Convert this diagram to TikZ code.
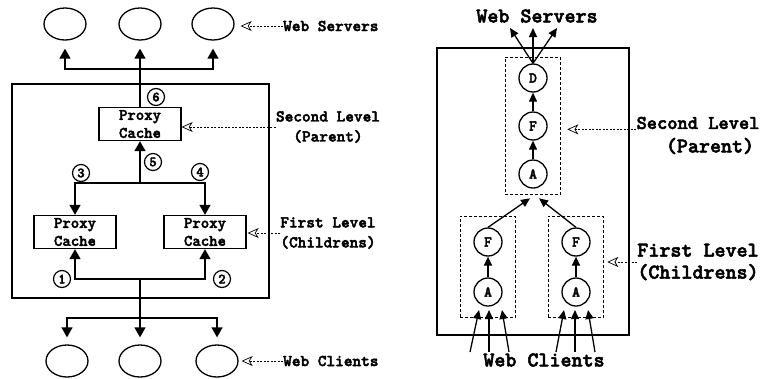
\documentclass[tikz,border=0pt]{standalone}
\usepackage{fontspec}
\newfontfamily\cour{lmmonolt10-bold.otf}[FakeBold=2.5]
\usetikzlibrary{arrows.meta,shapes.geometric,fit}
\tikzset{
  arr/.style={line width=1.4pt,-{Triangle[length=10pt,width=11pt]}},
  sarr/.style={line width=1.3pt,-{Triangle[length=9pt,width=8pt]}},
  lead/.style={line width=0.7pt,dash pattern=on 2pt off 1.5pt,-{Stealth[open,length=11pt,width=10pt,inset=3pt]}},
  host/.style={ellipse,draw,line width=1.3pt,minimum width=42pt,minimum height=32pt,inner sep=0pt},
  cache/.style={draw,line width=1.3pt,minimum width=82pt,minimum height=33pt,align=center,inner sep=0pt,
    font=\cour\bfseries\fontsize{16}{18}\selectfont},
  num/.style={circle,draw,line width=1.2pt,minimum size=17pt,inner sep=0pt,font=\cour\bfseries\fontsize{14}{14}\selectfont},
  mod/.style={circle,draw,line width=1.3pt,minimum size=28pt,inner sep=0pt,font=\cour\bfseries\fontsize{15}{15}\selectfont},
  grp/.style={draw,line width=1.3pt,dash pattern=on 3pt off 2pt,inner sep=0pt},
  lbl/.style={font=\cour\bfseries\fontsize{16.5}{20}\selectfont,align=center,inner sep=0pt},
  rlbl/.style={font=\cour\bfseries\fontsize{21}{22}\selectfont,align=center,inner sep=0pt},
}
\begin{document}
\begin{tikzpicture}[x=1pt,y=-1pt]
  \useasboundingbox (0,0) rectangle (769,378);
  % left: proxy hierarchy
  \node[host] (s1) at (65,24) {};
  \node[host] (s2) at (140,24) {};
  \node[host] (s3) at (213,24) {};
  \node[host] (c1) at (67,361) {};
  \node[host] (c2) at (140,361) {};
  \node[host] (c3) at (217,361) {};
  \draw[line width=1.4pt] (12,84) rectangle (269,298);
  \node[cache] (pc) at (140,124) {Proxy\\Cache};
  \node[cache] (cc1) at (75,232) {Proxy\\Cache};
  \node[cache] (cc2) at (205,232) {Proxy\\Cache};
  \coordinate (jt) at (140,69);
  \coordinate (jm) at (140,183);
  \coordinate (jl) at (140,279);
  \coordinate (jb) at (140,318);
  \draw[arr,shorten >=8pt] (pc.north) -- (s2.south);
  \draw[arr,shorten >=8pt] (jt) -| (s1.south);
  \draw[arr,shorten >=8pt] (jt) -| (s3.south);
  \draw[arr] (jm) -- (pc.south);
  \draw[arr] (jm) -| (cc1.north);
  \draw[arr] (jm) -| (cc2.north);
  \draw[arr] (jl) -| (cc1.south);
  \draw[arr] (jl) -| (cc2.south);
  \draw[line width=1.4pt] (jl) -- (jb);
  \draw[arr,shorten >=7pt] (jb) -- (c2.north);
  \draw[arr,shorten >=7pt] (jb) -| (c1.north);
  \draw[arr,shorten >=7pt] (jb) -| (c3.north);
  \node[num] (n6) at (156,97) {6};
  \node[num] (n5) at (153,162) {5};
  \node[num] (n3) at (81,173) {3};
  \node[num] (n4) at (200,172) {4};
  \node[num] (n1) at (62,279) {1};
  \node[num] (n2) at (222,279) {2};
  \node[lbl,anchor=west] (lws) at (283,26) {Web Servers};
  \draw[lead,shorten >=6pt] (lws.west) -- (lws.west -| s3.east);
  \node[lbl] (lsl) at (328,127) {Second Level\\(Parent)};
  \draw[lead] (lsl.west) -- (lsl.west -| pc.east);
  \node[lbl] (lfl) at (328,233) {First Level\\(Childrens)};
  \draw[lead,shorten >=1pt] (lfl.west) -- (lfl.west -| cc2.east);
  \node[lbl,anchor=west] (lwc) at (283,361) {Web Clients};
  \draw[lead,shorten >=3pt] (lwc.west) -- (lwc.west -| c3.east);
  % right: module chains
  \draw[line width=1.4pt] (437,48) rectangle (629,335);
  \node[mod] (pd) at (533,78) {D};
  \node[mod] (pf) at (533,126) {F};
  \node[mod] (pa) at (533,174) {A};
  \node[mod] (f1) at (488,242) {F};
  \node[mod] (a1) at (488,292) {A};
  \node[mod] (f2) at (576,242) {F};
  \node[mod] (a2) at (576,292) {A};
  \node[grp,fit=(pd)(pa),inner xsep=13pt,inner ysep=6pt] (gp) {};
  \node[grp,fit=(f1)(a1),inner xsep=13pt,inner ysep=11pt] (g1) {};
  \node[grp,fit=(f2)(a2),inner xsep=13pt,inner ysep=11pt] (g2) {};
  \draw[sarr] (pf) -- (pd);
  \draw[sarr] (pa) -- (pf);
  \draw[sarr] (a1) -- (f1);
  \draw[sarr] (a2) -- (f2);
  \draw[sarr] (f1.north) -- ([xshift=-3pt,yshift=-3pt]gp.south);
  \draw[sarr] (f2.north) -- ([xshift=6pt,yshift=-3pt]gp.south);
  \node[rlbl] (rws) at (537,16) {Web Servers};
  \coordinate (w1) at (510,28);
  \coordinate (w2) at (533,28);
  \coordinate (w3) at (557,28);
  \foreach \w in {w1,w2,w3}
    \draw[sarr] (pd.north) -- (\w);
  \node[rlbl] (rwc) at (544,360) {Web Clients};
  \foreach \a/\b [count=\i] in {470/479,489/489,509/502,556/564,575/575,595/588} {
    \coordinate (cb\i) at (\a,352);
    \coordinate (ct\i) at (\b,310);
    \draw[sarr] (cb\i) -- (ct\i);
  }
  \node[rlbl,font=\cour\bfseries\fontsize{19.5}{22}\selectfont] (rsl) at (698,123) {Second Level};
  \node[rlbl] (rpa) at (710,146) {(Parent)};
  \draw[lead,shorten >=6pt] (rsl.south west) -- (rsl.south west -| gp.east);
  \node[rlbl] (rfl) at (698,262) {First Level\\(Childrens)};
  \draw[lead,shorten >=3pt] (rfl.west) -- (rfl.west -| g2.east);
\end{tikzpicture}
\end{document}
